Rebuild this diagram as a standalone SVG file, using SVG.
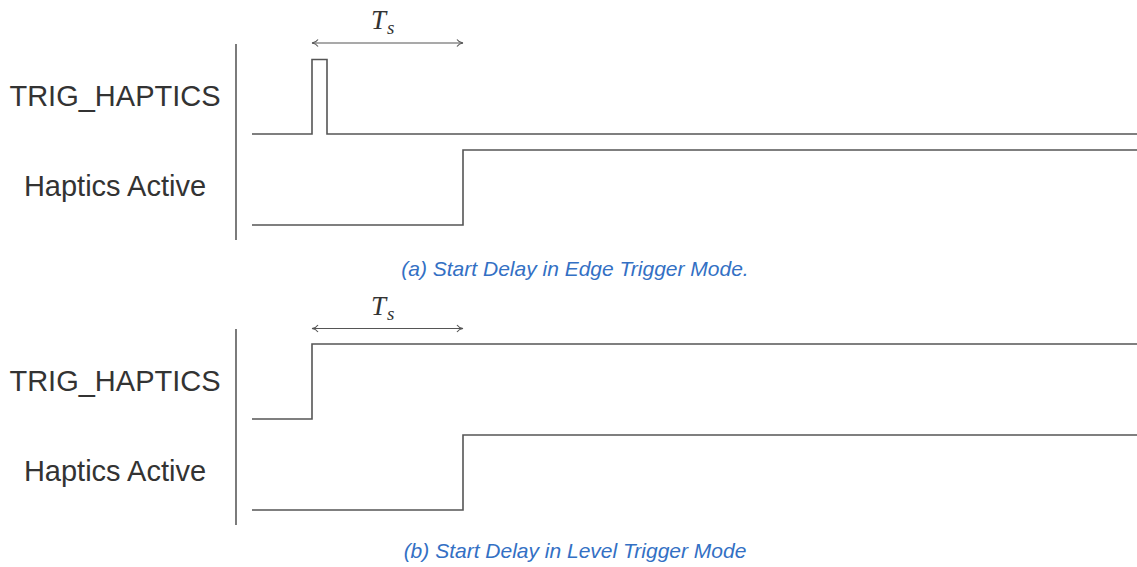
<svg xmlns="http://www.w3.org/2000/svg" width="1137" height="567" viewBox="0 0 1137 567">
<style>
.sig{fill:none;stroke:#555;stroke-width:1.6}
.axis{fill:none;stroke:#444;stroke-width:1.4}
.lbl{font-family:"Liberation Sans",Arial,sans-serif;font-size:29px;fill:#333;text-anchor:middle}
.cap{font-family:"Liberation Sans",Arial,sans-serif;font-size:21px;font-style:italic;fill:#3370c4;text-anchor:middle}
.ts{font-family:"Liberation Serif","Times New Roman",serif;font-style:italic;fill:#333}
.dim{fill:none;stroke:#555;stroke-width:1.1}
</style>
<defs>
<marker id="tip" viewBox="0 0 10 10" refX="9" refY="5" markerWidth="10" markerHeight="10" markerUnits="userSpaceOnUse" orient="auto-start-reverse">
<path d="M3,1.5 Q5,4.5 9,5 Q5,5.5 3,8.5" fill="none" stroke="#555" stroke-width="1.1"/>
</marker>
</defs>
<rect width="1137" height="567" fill="#fff"/>
<g id="panel-a">
<g id="labels-a">
<text class="lbl" x="115" y="106">TRIG_HAPTICS</text>
<text class="lbl" x="115" y="196">Haptics Active</text>
</g>
<g id="connectors-a">
<line class="axis" x1="236" y1="44" x2="236" y2="240"/>
<path id="trig-a" class="sig" d="M252,134 H312 V59.5 H327 V134 H1137"/>
<path id="hap-a" class="sig" d="M252,225 H463 V150 H1137"/>
<line class="dim" x1="312" y1="43" x2="463" y2="43" marker-start="url(#tip)" marker-end="url(#tip)"/>
</g>
<text class="ts" x="371" y="29" font-size="27">T<tspan font-size="19" dx="1" dy="5">s</tspan></text>
<text class="cap" x="575" y="276">(a) Start Delay in Edge Trigger Mode.</text>
</g>
<g id="panel-b">
<g id="labels-b">
<text class="lbl" x="115" y="391">TRIG_HAPTICS</text>
<text class="lbl" x="115" y="481">Haptics Active</text>
</g>
<g id="connectors-b">
<line class="axis" x1="236" y1="329" x2="236" y2="525"/>
<path id="trig-b" class="sig" d="M252,419 H312 V344 H1137"/>
<path id="hap-b" class="sig" d="M252,510 H463 V435 H1137"/>
<line class="dim" x1="312" y1="328.5" x2="463" y2="328.5" marker-start="url(#tip)" marker-end="url(#tip)"/>
</g>
<text class="ts" x="371" y="315" font-size="27">T<tspan font-size="19" dx="1" dy="5">s</tspan></text>
<text class="cap" x="575" y="558">(b) Start Delay in Level Trigger Mode</text>
</g>
</svg>
